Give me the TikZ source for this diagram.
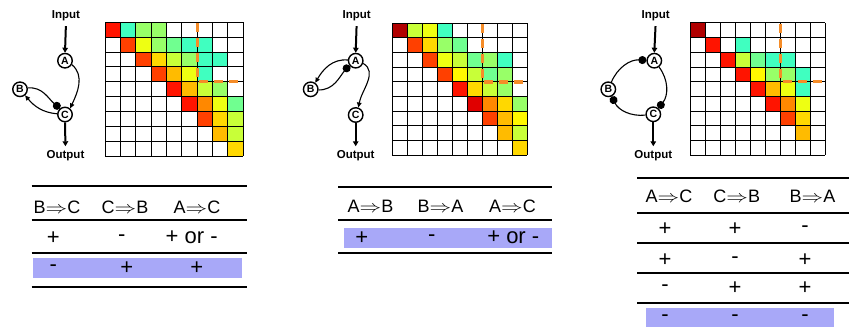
\documentclass[tikz,border=0pt]{standalone}
\usepackage{fontspec}
\setmainfont{Liberation Sans}
\usetikzlibrary{arrows.meta}
\definecolor{cDR}{HTML}{B00000}
\definecolor{cDR2}{HTML}{E00000}
\definecolor{cR}{HTML}{FF1400}
\definecolor{cRO}{HTML}{FF4000}
\definecolor{cO}{HTML}{FF8800}
\definecolor{cAm}{HTML}{FFBB00}
\definecolor{cGo}{HTML}{FFD800}
\definecolor{cY}{HTML}{EEFF12}
\definecolor{cYY}{HTML}{FFF800}
\definecolor{cYG}{HTML}{C8FF38}
\definecolor{cLG}{HTML}{98FF68}
\definecolor{cG}{HTML}{70FF90}
\definecolor{cAq}{HTML}{40FFC0}
\definecolor{rowblue}{HTML}{A8A8F8}
\definecolor{dashor}{HTML}{F58C28}
\newcommand{\heatgrid}[5]{%
  \foreach \r/\c/\cl in {#5} {\fill[\cl] ({#1+\c*#3},{#2+\r*#4}) rectangle ++(#3,#4);}
  \foreach \i in {0,...,9} {
    \draw[gridline] ({#1+\i*#3},#2) -- ++(0,{9*#4});
    \draw[gridline] (#1,{#2+\i*#4}) -- ++({9*#3},0);
  }
  \draw[odash] ({#1+6*#3},{#2+1}) -- ({#1+6*#3},{#2+4*#4}) -- ({#1+9*#3},{#2+4*#4});
}
\newcommand{\impl}{\scalebox{1.25}[1]{$\Rightarrow$}}
\begin{document}
\begin{tikzpicture}[x=1pt,y=-1pt,
  gridline/.style={black,line width=1pt},
  odash/.style={dashor,line width=3.2pt,dash pattern=on 9pt off 6pt},
  gnode/.style={circle,draw,line width=1.4pt,minimum size=14.5pt,inner sep=0pt,fill=white,font=\bfseries\fontsize{10.5}{11}\selectfont},
  io/.style={font=\bfseries\fontsize{11.5}{12}\selectfont,inner sep=1pt},
  thick arrow/.style={line width=2pt,-{Triangle[length=5pt,width=5.5pt]}},
  arr/.style={line width=1.1pt,-{Triangle[length=5pt,width=4.5pt]}},
  dotend/.style={line width=1.1pt,-{Circle[length=8pt]}},
  hd/.style={font=\fontsize{18}{20}\selectfont,inner sep=0pt},
  rw/.style={font=\fontsize{22}{24}\selectfont,inner sep=0pt},
  rule/.style={line width=2pt}]
\useasboundingbox (0,0) rectangle (849,328);

% ---------- panel 1 ----------
\node[io] (in1) at (66,15.7) {Input};
\node[gnode] (a1) at (65,60.7) {A};
\node[gnode] (b1) at (20,89.3) {B};
\node[gnode] (c1) at (65,114.5) {C};
\node[io] (out1) at (65.5,155.7) {Output};
\draw[thick arrow,shorten <=4pt] (in1.south) -- (a1.north);
\draw[thick arrow,shorten >=3pt] (c1.south) -- (out1.north);
\draw[arr] (a1.-30) to[out=-40,in=65] (c1.50);
\draw[dotend] (b1.10) to[out=5,in=140] (c1.130);
\draw[arr] (c1.175) to[out=175,in=-50] (b1.-50);
\heatgrid{105.3}{22.3}{15.33}{14.9}{0/0/cR,0/1/cAq,0/2/cLG,0/3/cLG,
 1/1/cRO,1/2/cY,1/3/cLG,1/4/cG,1/5/cAq,1/6/cAq,
 2/2/cRO,2/3/cGo,2/4/cYG,2/5/cLG,2/6/cAq,2/7/cAq,
 3/3/cRO,3/4/cAm,3/5/cY,3/6/cAq,
 4/4/cR,4/5/cAm,4/6/cYG,4/7/cLG,
 5/5/cR,5/6/cO,5/7/cY,5/8/cG,
 6/6/cRO,6/7/cGo,6/8/cYG,
 7/7/cAm,7/8/cYG,
 8/8/cGo}

% ---------- panel 2 ----------
\node[io] (in2) at (356.7,15.7) {Input};
\node[gnode] (a2) at (355.7,60.7) {A};
\node[gnode] (b2) at (310.7,89.3) {B};
\node[gnode] (c2) at (355.7,115) {C};
\node[io] (out2) at (355.7,155.7) {Output};
\draw[thick arrow,shorten <=4pt] (in2.south) -- (a2.north);
\draw[thick arrow,shorten >=3pt] (c2.south) -- (out2.north);
\draw[arr] (a2.175) to[out=175,in=60] (b2.55);
\draw[dotend] (b2.-5) to[out=0,in=-130] (a2.-145);
\draw[arr] (a2.-20) to[out=-30,in=80] (c2.70);
\heatgrid{392.3}{23.3}{14.97}{14.67}{0/0/cDR,0/1/cYG,0/2/cY,0/3/cAq,
 1/1/cRO,1/2/cGo,1/3/cLG,1/4/cG,
 2/2/cRO,2/3/cY,2/4/cYG,2/5/cG,2/6/cLG,2/7/cAq,
 3/3/cRO,3/4/cYY,3/5/cYG,3/6/cG,3/7/cLG,
 4/4/cR,4/5/cGo,4/6/cYG,4/7/cLG,
 5/5/cDR2,5/6/cO,5/7/cGo,5/8/cLG,
 6/6/cRO,6/7/cAm,6/8/cYY,
 7/7/cAm,7/8/cYG,
 8/8/cGo}

% ---------- panel 3 ----------
\node[io] (in3) at (655.7,15.7) {Input};
\node[gnode] (a3) at (654.3,60.7) {A};
\node[gnode] (b3) at (608.3,89.3) {B};
\node[gnode] (c3) at (653.3,114.3) {C};
\node[io] (out3) at (653.3,155.7) {Output};
\draw[thick arrow,shorten <=4pt] (in3.south) -- (a3.north);
\draw[thick arrow,shorten >=3pt] (c3.south) -- (out3.north);
\draw[dotend] (b3) to[bend left=35] (a3);
\draw[dotend] (a3) to[bend left=38] (c3);
\draw[dotend] (c3) to[bend left=35] (b3);
\heatgrid{690.3}{23}{15}{14.7}{0/0/cDR,
 1/1/cR,1/3/cAq,
 2/2/cR,2/3/cYG,2/4/cG,2/5/cAq,2/6/cAq,
 3/3/cR,3/4/cYY,3/5/cLG,3/6/cLG,3/7/cAq,
 4/4/cR,4/5/cAm,4/6/cY,4/7/cAq,
 5/5/cR,5/6/cO,5/7/cY,
 6/6/cRO,6/7/cGo,
 7/7/cAm}

% ---------- table 1 ----------
\fill[rowblue] (33.3,258.3) rectangle (241.7,277.7);
\foreach \yy in {186,220,253.3,286.7} \draw[rule] (31.7,\yy) -- (246.7,\yy);
\node[hd] (t1h1) at (57,207.7) {B\impl C};
\node[hd] (t1h2) at (125,207.7) {C\impl B};
\node[hd] (t1h3) at (197,207.7) {A\impl C};
\node[rw] (t1a1) at (53.3,237.7) {+};
\node[rw] (t1a2) at (121.7,237.7) {-};
\node[rw] (t1a3) at (191.7,237.7) {+ or -};
\node[rw] (t1b1) at (53.3,268.3) {-};
\node[rw] (t1b2) at (126.7,268.3) {+};
\node[rw] (t1b3) at (196.7,268.3) {+};

% ---------- table 2 ----------
\fill[rowblue] (344,228.3) rectangle (551.7,248.3);
\foreach \yy in {186.7,220,253.3} \draw[rule] (338.3,\yy) -- (552.3,\yy);
\node[hd] (t2h1) at (370.5,206.7) {A\impl B};
\node[hd] (t2h2) at (440.5,206.7) {B\impl A};
\node[hd] (t2h3) at (512.5,206.7) {A\impl C};
\node[rw] (t2a1) at (361.7,237.7) {+};
\node[rw] (t2a2) at (431.7,237.7) {-};
\node[rw] (t2a3) at (513.3,237.7) {+ or -};

% ---------- table 3 ----------
\fill[rowblue] (646,308.3) rectangle (834,326.7);
\foreach \yy in {178.3,212.7,242.7,272.7,303.3} \draw[rule] (637.3,\yy) -- (849,\yy);
\node[hd] (t3h1) at (669,196.7) {A\impl C};
\node[hd] (t3h2) at (736.7,196.7) {C\impl B};
\node[hd] (t3h3) at (812.5,196.7) {B\impl A};
\node[rw] (t3a1) at (665,229) {+};
\node[rw] (t3a2) at (735,229) {+};
\node[rw] (t3a3) at (805,229) {-};
\node[rw] (t3b1) at (665,260) {+};
\node[rw] (t3b2) at (735,260) {-};
\node[rw] (t3b3) at (805,260) {+};
\node[rw] (t3c1) at (665,288.3) {-};
\node[rw] (t3c2) at (735,288.3) {+};
\node[rw] (t3c3) at (805,288.3) {+};
\node[rw] (t3d1) at (665,318.3) {-};
\node[rw] (t3d2) at (735,318.3) {-};
\node[rw] (t3d3) at (805,318.3) {-};
\end{tikzpicture}
\end{document}
